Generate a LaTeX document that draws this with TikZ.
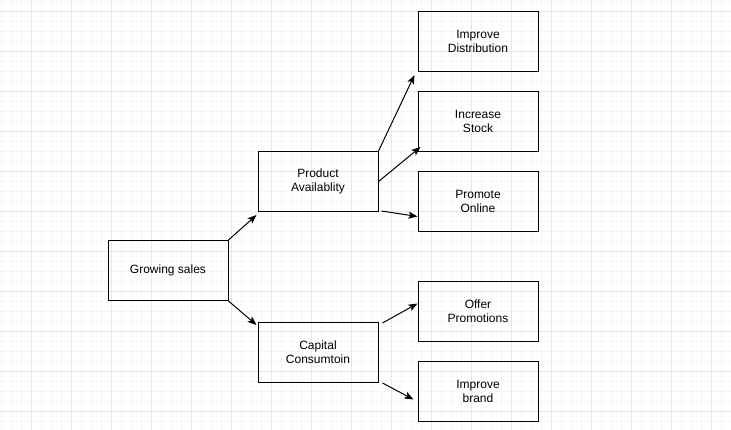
\documentclass[tikz,border=0pt]{standalone}
\usepackage{fontspec}
\setmainfont{Liberation Sans}
\usetikzlibrary{arrows.meta}
\definecolor{gridminor}{HTML}{F6F6F6}
\definecolor{gridmajor}{HTML}{E6E6E6}
\tikzset{
  box/.style={draw=black, line width=1pt, rectangle, minimum width=120pt, minimum height=60pt, inner sep=0pt, align=center, font=\fontsize{12pt}{14pt}\selectfont, fill=none},
  conn/.style={draw=black, line width=1pt, -{Stealth[length=9pt,width=7pt,inset=2pt]}}
}
\begin{document}
\begin{tikzpicture}[x=1pt,y=-1pt]
\useasboundingbox (0,0) rectangle (731,430);
\fill[white] (0,0) rectangle (731,430);
% minor grid
\foreach \i in {0,...,73} {\draw[gridminor, line width=1pt] (1.5+10*\i,0) -- (1.5+10*\i,430);}
\foreach \j in {0,...,43} {\draw[gridminor, line width=1pt] (0,1.5+10*\j) -- (731,1.5+10*\j);}
% major grid
\foreach \i in {0,...,17} {\draw[gridmajor, line width=1pt] (31.5+40*\i,0) -- (31.5+40*\i,430);}
\foreach \j in {0,...,10} {\draw[gridmajor, line width=1pt] (0,11.5+40*\j) -- (731,11.5+40*\j);}

\node[box] (gs) at (168,270.5) {Growing sales};
\node[box] (pa) at (318,181.5) {Product\\Availablity};
\node[box] (cc) at (318,352.5) {Capital\\Consumtoin};
\node[box] (id) at (478,41.5) {Improve\\Distribution};
\node[box] (is) at (478,121.5) {Increase\\Stock};
\node[box] (po) at (478,201.5) {Promote\\Online};
\node[box] (op) at (478,311.5) {Offer\\Promotions};
\node[box] (ib) at (478,391.5) {Improve\\brand};

\draw[conn] (gs.north east) -- ([shift={(-1,3)}]pa.south west);
\draw[conn] (gs.south east) -- ([shift={(-1,3)}]cc.north west);
\draw[conn] (pa.north east) -- ([shift={(-3,3)}]id.south west);
\draw[conn] (pa.east) -- ([shift={(3,-5)}]is.south west);
\draw[conn] ([shift={(3,-1)}]pa.south east) -- ([shift={(0,15)}]po.west);
\draw[conn] ([shift={(4,1)}]cc.north east) -- ([shift={(0,-8)}]op.west);
\draw[conn] ([shift={(4,0)}]cc.south east) -- ([shift={(-4,8)}]ib.west);
\end{tikzpicture}
\end{document}
